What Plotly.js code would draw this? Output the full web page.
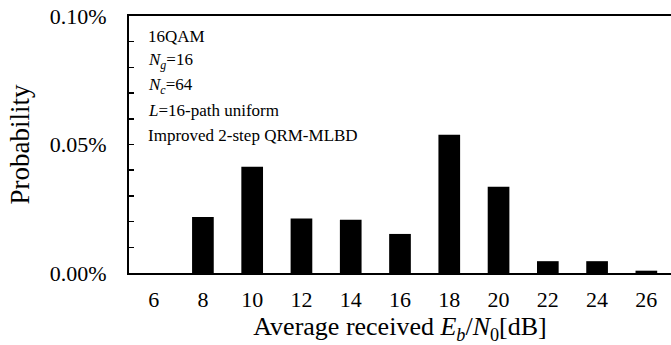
<!DOCTYPE html>
<html>
<head>
<meta charset="utf-8">
<script src="https://cdn.plot.ly/plotly-3.0.1.min.js"></script>
<style>
  html, body { margin: 0; padding: 0; background: #fff; }
  #chart { width: 671px; height: 345px; }
</style>
</head>
<body>
<div id="chart"></div>
<script>
// Average received Eb/N0 bins (dB)
const snrBins = ['6', '8', '10', '12', '14', '16', '18', '20', '22', '24', '26'];
// Probability in percent for each bin
const probabilityPct = [0, 0.0218, 0.0413, 0.0212, 0.0207, 0.0152, 0.0538, 0.0336, 0.0046, 0.0046, 0.0009];
// Simulation conditions listed in the upper-left corner
const conditionLines = [
  '16QAM',
  '<i>N</i><sub><i>g</i></sub>=16',
  '<i>N</i><sub><i>c</i></sub>=64',
  '<i>L</i>=16-path uniform',
  'Improved 2-step QRM-MLBD'
];

const serif = '"Liberation Serif", serif';

const trace = {
  type: 'bar',
  x: snrBins,
  y: probabilityPct,
  marker: { color: '#000000', line: { width: 0 } },
  hoverinfo: 'x+y'
};

const annotations = conditionLines.map((txt, i) => ({
  xref: 'paper', yref: 'paper',
  x: 0.031, y: 0.922 - i * 0.0972,
  xanchor: 'left', yanchor: 'middle',
  text: txt,
  showarrow: false,
  font: { family: serif, size: 17, color: '#000' }
}));

const layout = {
  width: 671,
  height: 345,
  margin: { l: 129, r: 0, t: 16, b: 72 },
  paper_bgcolor: '#ffffff',
  plot_bgcolor: '#ffffff',
  showlegend: false,
  bargap: 0.56,
  font: { family: serif, color: '#000' },
  xaxis: {
    type: 'category',
    range: [-0.5, 10.5],
    showline: true,
    linecolor: '#000',
    linewidth: 2,
    mirror: true,
    ticks: '',
    showgrid: false,
    zeroline: false,
    tickfont: { family: serif, size: 22, color: '#000' },
    ticklabelstandoff: 6,
    title: {
      text: 'Average received <i>E</i><sub><i>b</i></sub>/<i>N</i><sub>0</sub>[dB]',
      font: { family: serif, size: 26, color: '#000' },
      standoff: 4
    }
  },
  yaxis: {
    range: [0, 0.1],
    tickmode: 'linear',
    tick0: 0,
    dtick: 0.05,
    tickformat: '.2f',
    ticksuffix: '%',
    showline: true,
    linecolor: '#000',
    linewidth: 2,
    ticks: 'inside',
    ticklen: 5,
    tickwidth: 1.5,
    tickcolor: '#000',
    minor: { tickmode: 'linear', tick0: 0, dtick: 0.01, ticks: 'inside', ticklen: 5, tickwidth: 1.5, tickcolor: '#000', showgrid: false },
    showgrid: false,
    zeroline: false,
    tickfont: { family: serif, size: 22, color: '#000' },
    ticklabelstandoff: 16,
    title: {
      text: 'Probability',
      font: { family: serif, size: 27, color: '#000' },
      standoff: 12
    }
  },
  annotations: annotations
};

Plotly.newPlot('chart', [trace], layout, { displayModeBar: false, staticPlot: true });
</script>
</body>
</html>
